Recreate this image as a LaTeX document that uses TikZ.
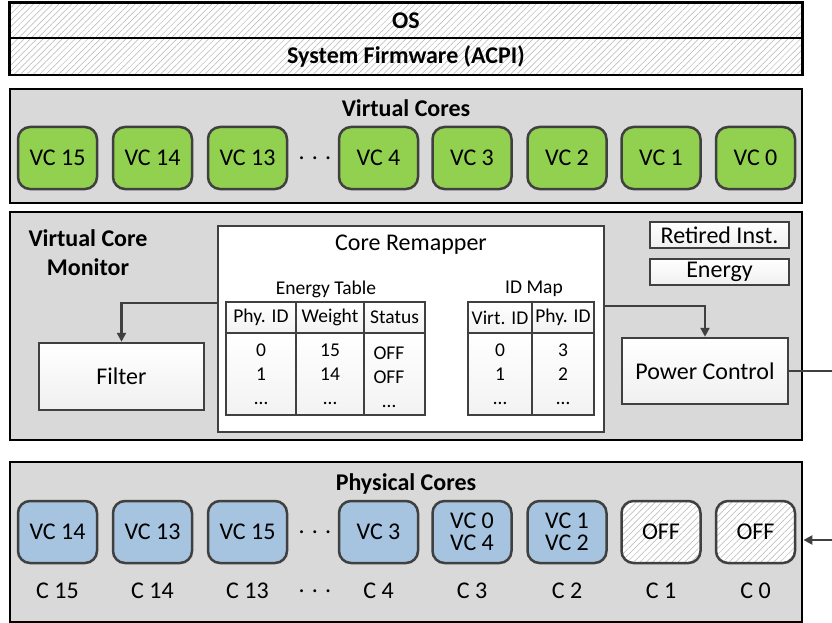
\documentclass[tikz,border=0pt]{standalone}
\usepackage{fontspec}
\setmainfont{Carlito}
\usetikzlibrary{patterns.meta,arrows.meta,calc}
\definecolor{panelgray}{HTML}{D9D9D9}
\definecolor{vcgreen}{HTML}{92D050}
\definecolor{pcblue}{HTML}{A6C4E0}
\definecolor{edgegray}{HTML}{404040}
\definecolor{hatchgray}{HTML}{B4B4B4}
\begin{document}
\begin{tikzpicture}[x=1pt,y=-1pt,
  mainfont/.style={font=\fontsize{24}{22}\selectfont},
  smallfont/.style={font=\fontsize{19.5}{24}\selectfont},
  boldfont/.style={font=\fontsize{24}{29}\selectfont\bfseries},
  hatchfill/.style={preaction={fill=white}, pattern={Lines[angle=45,distance=4.5pt,line width=0.5pt]}, pattern color=hatchgray},
  hatched/.style={draw=black, line width=2.5pt, hatchfill, inner sep=0pt, boldfont},
  panel/.style={draw=black, line width=2.8pt, fill=panelgray, inner sep=0pt},
  corebox/.style={draw=edgegray, line width=2.5pt, rounded corners=12pt, minimum width=79pt, minimum height=62pt, inner sep=0pt, mainfont, align=center},
  vcbox/.style={corebox, fill=vcgreen},
  pcbox/.style={corebox, fill=pcblue},
  offbox/.style={corebox, hatchfill},
  whitebox/.style={draw=edgegray, line width=2.5pt, top color=white, bottom color=gray!12, inner sep=0pt, mainfont},
  cell/.style={draw=edgegray, line width=2.5pt, top color=white, bottom color=gray!10, inner sep=0pt, smallfont, align=center},
  conn/.style={draw=edgegray, line width=2.5pt, -{Triangle[length=9pt,width=9pt]}},
]
\useasboundingbox (0,0) rectangle (832,623);

% top layers
\node[hatched, minimum width=793pt, minimum height=36pt] (os) at (406,20.5) {OS};
\node[hatched, minimum width=793pt, minimum height=37pt] (fw) at (406,56.5) {System Firmware (ACPI)};

% virtual cores panel
\node[panel, minimum width=792pt, minimum height=114pt] (vcp) at (406,146) {};
\node[boldfont] (vctitle) at (406,108) {Virtual Cores};
\foreach \x/\n in {57.5/15,152.5/14,247.5/13,378.5/4,472/3,567/2,661/1,755.5/0}
  \node[vcbox] (vc\n) at (\x,158) {VC \n};
\node[mainfont] (vcdots) at (315,158) {. . .};

% monitor panel
\node[panel, minimum width=792pt, minimum height=228pt] (mon) at (406,326) {};
\node[boldfont, align=center] (montitle) at (88,253) {Virtual Core\\Monitor};

% core remapper
\node[draw=edgegray, line width=2.5pt, fill=white, minimum width=386pt, minimum height=206pt, inner sep=0pt] (cr) at (411,329) {};
\node[mainfont] (crtitle) at (411,245) {Core Remapper};
\node[smallfont] (ettitle) at (326,289) {Energy Table};
\node[smallfont] (idtitle) at (534,289) {ID Map};

% energy table
\node[cell, minimum width=70pt, minimum height=31pt] (eth1) at (261,317.5) {Phy. ID};
\node[cell, minimum width=68pt, minimum height=31pt] (eth2) at (330,317.5) {Weight};
\node[cell, minimum width=61pt, minimum height=31pt] (eth3) at (394.5,317.5) {Status};
\node[cell, minimum width=70pt, minimum height=82pt] (etb1) at (261,374) {0\\1\\…};
\node[cell, minimum width=68pt, minimum height=82pt] (etb2) at (330,374) {15\\14\\…};
\node[cell, minimum width=61pt, minimum height=82pt] (etb3) at (394.5,374) {};
\node[smallfont, align=center] (etb3t) at (389,377) {OFF\\OFF\\…};

% id map
\node[cell, minimum width=64pt, minimum height=31pt] (idh1) at (500,317.5) {Virt. ID};
\node[cell, minimum width=62pt, minimum height=31pt] (idh2) at (563,317.5) {Phy. ID};
\node[cell, minimum width=64pt, minimum height=82pt] (idb1) at (500,374) {0\\1\\…};
\node[cell, minimum width=62pt, minimum height=82pt] (idb2) at (563,374) {3\\2\\…};

% counters
\node[whitebox, minimum width=139pt, minimum height=26pt] (ret) at (719.5,235) {Retired Inst.};
\node[whitebox, minimum width=139pt, minimum height=26pt] (en) at (719.5,272) {Energy};

% filter and power control
\node[whitebox, minimum width=165pt, minimum height=67pt] (filter) at (121.5,376.5) {Filter};
\node[whitebox, minimum width=166pt, minimum height=66pt] (pc) at (705,371) {Power Control};

% physical cores panel
\node[panel, minimum width=792pt, minimum height=160pt] (phy) at (406,542) {};
\node[boldfont] (phytitle) at (406,484) {Physical Cores};
\node[pcbox] (pc15) at (57.5,532) {VC 14};
\node[pcbox] (pc14) at (152.5,532) {VC 13};
\node[pcbox] (pc13) at (247.5,532) {VC 15};
\node[pcbox] (pc4) at (378.5,532) {VC 3};
\node[pcbox] (pc3) at (472,532) {VC 0\\VC 4};
\node[pcbox] (pc2) at (567,532) {VC 1\\VC 2};
\node[offbox] (pc1) at (661,532) {OFF};
\node[offbox] (pc0) at (755.5,532) {OFF};
\node[mainfont] (pcdots) at (315,532) {. . .};
\foreach \x/\n in {57.5/15,152.5/14,247.5/13,378.5/4,472/3,567/2,661/1,755.5/0}
  \node[mainfont] (lab\n) at (\x,591) {C \n};
\node[mainfont] (labdots) at (315,591) {. . .};

% connectors
\draw[conn] ($(cr.north west)+(0,78)$) -| (filter.north);
\draw[conn] ($(cr.north east)+(0,81)$) -| (pc.north);
\coordinate (loopout) at (850,371);
\draw[conn] (pc.east) -- (loopout) |- ($(phy.east)+(0,-2)$);
\end{tikzpicture}
\end{document}
